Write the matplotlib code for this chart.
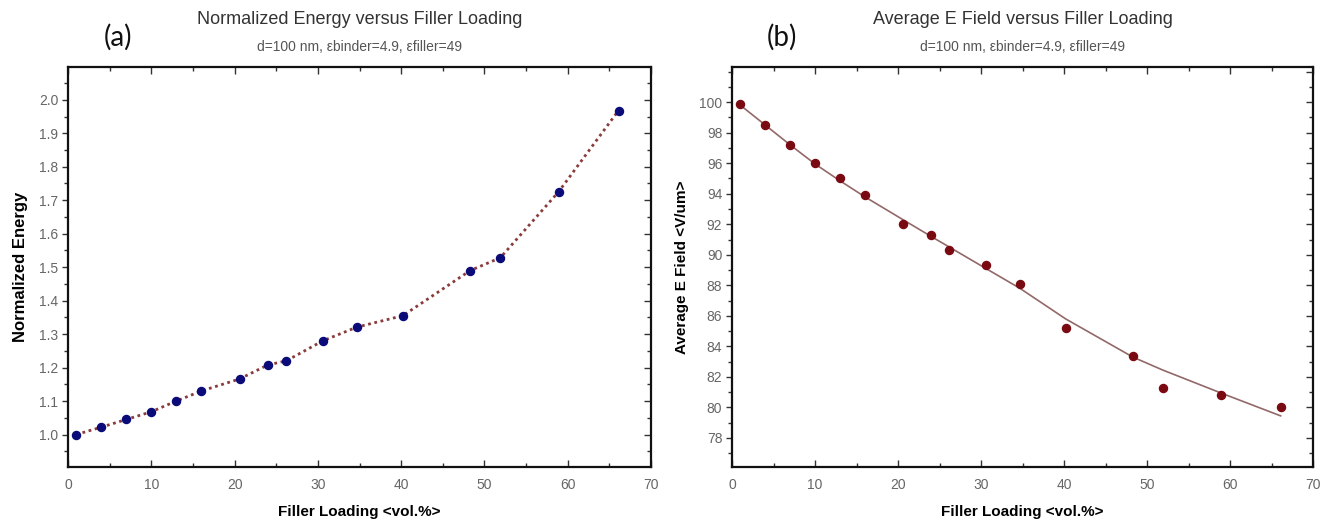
import matplotlib
matplotlib.use("Agg")
import matplotlib.pyplot as plt
from matplotlib.ticker import MultipleLocator, FixedLocator, FormatStrFormatter

# Filler loading (vol.%) for each simulated composite
loading = [1.0, 4.0, 7.0, 10.0, 13.0, 16.0, 20.6, 24.0, 26.2, 30.6, 34.7, 40.2, 48.3, 51.9, 58.9, 66.1]

# Normalized stored energy
norm_energy = [1.000, 1.022, 1.045, 1.068, 1.100, 1.130, 1.166, 1.208, 1.220, 1.280,
               1.321, 1.355, 1.490, 1.528, 1.725, 1.968]

# Average electric field in the binder (V/um)
avg_field = [99.9, 98.5, 97.2, 96.0, 95.0, 93.9, 92.0, 91.3, 90.3, 89.3,
             88.1, 85.2, 83.4, 81.3, 80.8, 80.0]
# Smoothed trend of the average field
field_trend = [99.8, 98.5, 97.2, 95.95, 94.85, 93.8, 92.3, 91.2, 90.5, 89.1,
               87.8, 85.8, 83.3, 82.45, 80.95, 79.45]

# Labelled y ticks of each panel
energy_ticks = [1.0, 1.1, 1.2, 1.3, 1.4, 1.5, 1.6, 1.7, 1.8, 1.9, 2.0]
field_ticks = [78, 80, 82, 84, 86, 88, 90, 92, 94, 96, 98, 100]

subtitle = "d=100 nm, \u03b5binder=4.9, \u03b5filler=49"

W, H = 1321, 522
fig = plt.figure(figsize=(W / 100, H / 100), dpi=100)
fig.patch.set_facecolor("white")

FONT = "Liberation Sans"
TICK_GREY = "#666666"


def style_axes(ax, major, minor_step):
    for side in ("top", "bottom", "left", "right"):
        ax.spines[side].set_linewidth(1.6)
        ax.spines[side].set_color("#111111")
    ax.yaxis.set_major_locator(FixedLocator(major))
    ax.yaxis.set_minor_locator(MultipleLocator(minor_step))
    ax.tick_params(axis="x", which="both", direction="in", top=True, bottom=True,
                   labelsize=10, labelcolor=TICK_GREY, color="#333333", pad=8)
    ax.tick_params(axis="x", which="major", length=5, width=1)
    ax.tick_params(axis="x", which="minor", length=3, width=1)
    ax.tick_params(axis="y", which="both", direction="out", left=True, right=False,
                   labelsize=10, labelcolor=TICK_GREY, color="#333333", pad=3)
    ax.tick_params(axis="y", which="major", length=4, width=1)
    ax.tick_params(axis="y", which="minor", length=3, width=1)
    # inward ticks on the right-hand frame
    sec = ax.secondary_yaxis("right")
    sec.yaxis.set_major_locator(MultipleLocator(minor_step * 2))
    sec.yaxis.set_minor_locator(MultipleLocator(minor_step))
    sec.tick_params(axis="y", which="both", direction="in", labelright=False,
                    color="#333333", width=1)
    sec.tick_params(axis="y", which="major", length=5)
    sec.tick_params(axis="y", which="minor", length=3)
    sec.spines["right"].set_visible(False)
    ax.set_xlim(0, 70)
    ax.xaxis.set_major_locator(MultipleLocator(10))
    ax.xaxis.set_minor_locator(MultipleLocator(5))
    ax.set_xlabel("Filler Loading <vol.%>", fontsize=11, fontweight="bold",
                  family=FONT, labelpad=9)
    for lab in ax.get_xticklabels() + ax.get_yticklabels():
        lab.set_family(FONT)


# ---- (a) normalized energy ----
ax1 = fig.add_axes([68 / W, 1 - 467 / H, (651 - 68) / W, 400 / H])
ax1.plot(loading, norm_energy, linestyle=(0, (1.0, 1.3)), color="#8a3b3b", lw=2.0, zorder=2)
ax1.plot(loading, norm_energy, "o", color="#0a0a78", ms=5.8, zorder=3)
ax1.set_ylim(0.903, 2.098)
ax1.yaxis.set_major_formatter(FormatStrFormatter("%.1f"))
style_axes(ax1, energy_ticks, 0.05)
ax1.set_ylabel("Normalized Energy", fontsize=12, fontweight="bold", family=FONT, labelpad=8)

# ---- (b) average field ----
ax2 = fig.add_axes([732 / W, 1 - 467 / H, (1313 - 732) / W, 400 / H])
ax2.plot(loading, field_trend, "-", color="#936868", lw=1.2, zorder=2)
ax2.plot(loading, avg_field, "o", color="#7a0a12", ms=5.8, zorder=3)
ax2.set_ylim(76.1, 102.3)
style_axes(ax2, field_ticks, 1)
ax2.set_ylabel("Average E Field <V/um>", fontsize=11, fontweight="bold", family=FONT, labelpad=7)

# ---- titles and panel letters ----
for ax, title, letter, lx in ((ax1, "Normalized Energy versus Filler Loading", "(a)", 104 / W),
                              (ax2, "Average E Field versus Filler Loading", "(b)", 767 / W)):
    bb = ax.get_position()
    cx = (bb.x0 + bb.x1) / 2
    fig.text(cx, 1 - 19 / H, title, ha="center", va="center", fontsize=13,
             color="#333333", family=FONT)
    fig.text(cx, 1 - 47 / H, subtitle, ha="center", va="center", fontsize=10,
             color="#555555", family=FONT)
    fig.text(lx, 1 - 37 / H, letter, ha="left", va="center", fontsize=20,
             color="#111111", family="Lato")

fig.savefig("out.png", dpi=100, facecolor="white")
